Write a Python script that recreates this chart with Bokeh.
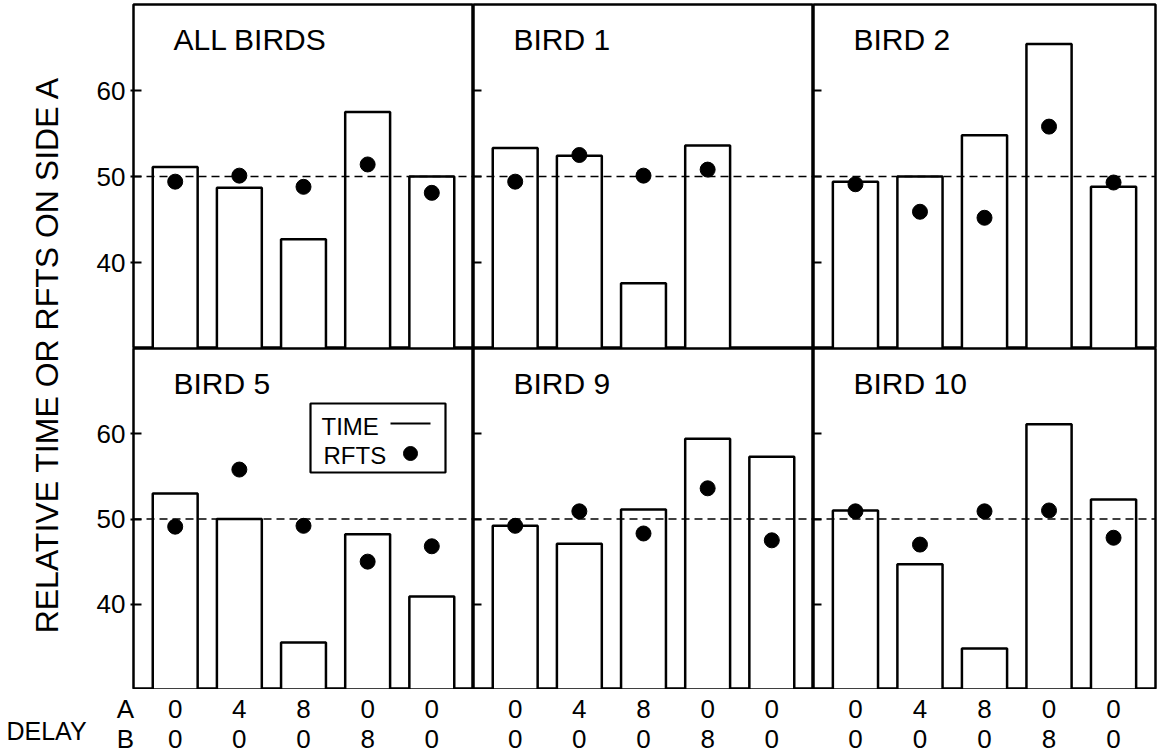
import math
from bokeh.plotting import figure
from bokeh.layouts import row as brow, column as bcol
from bokeh.models import (Range1d, LinearAxis, FixedTicker, Span, Label,
                          BoxAnnotation, GridPlot)
from bokeh.core.properties import value
from bokeh.embed import file_html
from bokeh.resources import INLINE

# ---------------- data ----------------
panel_titles = ["ALL BIRDS", "BIRD 1", "BIRD 2", "BIRD 5", "BIRD 9", "BIRD 10"]
positions = [1, 2, 3, 4, 5]
delay_a = ["0", "4", "8", "0", "0"]
delay_b = ["0", "0", "0", "8", "0"]
delay_rows = ["A", "B"]

time_all = [51.1, 48.7, 42.7, 57.5, 50.0]
time_b1 = [53.3, 52.4, 37.6, 53.6, None]
time_b2 = [49.4, 50.0, 54.8, 65.4, 48.8]
time_b5 = [53.0, 50.0, 35.5, 48.2, 40.9]
time_b9 = [49.2, 47.1, 51.1, 59.4, 57.3]
time_b10 = [51.0, 44.7, 34.8, 61.1, 52.3]

rfts_all = [49.4, 50.1, 48.8, 51.4, 48.1]
rfts_b1 = [49.4, 52.5, 50.1, 50.8, None]
rfts_b2 = [49.1, 45.9, 45.2, 55.8, 49.3]
rfts_b5 = [49.1, 55.8, 49.2, 45.0, 46.8]
rfts_b9 = [49.2, 50.9, 48.3, 53.6, 47.5]
rfts_b10 = [50.9, 47.0, 50.9, 51.0, 47.8]

y_ticks = [40, 50, 60]
chance_level = 50

time_sets = [time_all, time_b1, time_b2, time_b5, time_b9, time_b10]
rfts_sets = [rfts_all, rfts_b1, rfts_b2, rfts_b5, rfts_b9, rfts_b10]

# ---------------- layout ----------------
FONT = "Liberation Sans"
X0, X1 = 0.35, 5.65
Y0, Y1 = 30, 70
col_frame_w = [340, 340, 342]
row_frame_h = [344, 341]
left_border = 48
label_col_w = 85
top_border = 4
delay_h = 66
right_border = 7
LW = 2.5


def bare_fig(w, h, xr, yr):
    f = figure(width=w, height=h, x_range=xr, y_range=yr,
               output_backend="svg", toolbar_location=None,
               x_axis_location=None, y_axis_location=None, min_border=0)
    if "frame_align" in f.properties():
        f.frame_align = False
    for g in f.grid:
        g.visible = False
    f.outline_line_color = None
    f.background_fill_color = "white"
    f.border_fill_color = "white"
    return f


def make_panel(r, c, title, times, rfts):
    fw, fh = col_frame_w[c], row_frame_h[r]
    bl = left_border if c == 0 else 0
    br = right_border if c == 2 else 0
    bt = top_border if r == 0 else 0
    p = figure(width=fw + bl + br, height=fh + bt,
               x_range=Range1d(X0, X1), y_range=Range1d(Y0, Y1),
               output_backend="svg", toolbar_location=None,
               x_axis_location=None, y_axis_location=None,
               min_border_left=bl, min_border_right=br,
               min_border_top=bt, min_border_bottom=0)
    for g in p.grid:
        g.visible = False
    p.outline_line_color = "black"
    p.outline_line_width = LW
    p.background_fill_color = "white"
    p.border_fill_color = "white"
    sx = fw / (X1 - X0)
    sy = fh / (Y1 - Y0)

    # y axis (ticks inward)
    yax = LinearAxis(ticker=FixedTicker(ticks=y_ticks),
                     axis_line_color=None,
                     major_tick_line_color="black", major_tick_line_width=2,
                     major_tick_in=8, major_tick_out=3 if c == 0 else 0,
                     minor_tick_line_color=None,
                     major_label_text_font=FONT,
                     major_label_text_font_size="26px",
                     major_label_text_color="black",
                     major_label_standoff=5 if c == 0 else 0)
    if c != 0:
        yax.major_label_overrides = {t: "" for t in y_ticks}
        yax.major_label_text_font_size = "0px"
    p.add_layout(yax, "left")

    # bars and dots
    bx = [x for x, v in zip(positions, times) if v is not None]
    bt_ = [v for v in times if v is not None]
    p.vbar(x=bx, width=0.7, bottom=Y0, top=bt_, fill_color="white",
           line_color="black", line_width=LW)
    dx = [x for x, v in zip(positions, rfts) if v is not None]
    dy = [v for v in rfts if v is not None]
    p.scatter(x=dx, y=dy, size=15, fill_color="black", line_color="black")

    p.add_layout(Span(location=chance_level, dimension="width",
                      line_color="black", line_width=1.7, line_dash="8 5"))

    p.add_layout(Label(x=X0 + 40 / sx, y=Y1 - 35 / sy, text=title,
                       text_font=FONT, text_font_size="30px",
                       text_baseline="middle", text_color="black"))
    return p, sx, sy


panels = []
idx = 0
for r in range(2):
    prow = []
    for c in range(3):
        prow.append(make_panel(r, c, panel_titles[idx], time_sets[idx], rfts_sets[idx]))
        idx += 1
    panels.append(prow)

# legend in BIRD 5 panel
p5, sx5, sy5 = panels[1][0]
def px(off):
    return X0 + off / sx5
def py(off):
    return Y1 - off / sy5
p5.add_layout(BoxAnnotation(left=px(177), right=px(312), top=py(55), bottom=py(124),
                            fill_color="white", fill_alpha=1.0,
                            line_color="black", line_alpha=1.0, line_width=2.2,
                            level="underlay"))
p5.add_layout(Label(x=px(188), y=py(77.5), text="TIME", text_font=FONT,
                    text_font_size="24px", text_baseline="middle", text_color="black"))
p5.add_layout(Label(x=px(190), y=py(107), text="RFTS", text_font=FONT,
                    text_font_size="24px", text_baseline="middle", text_color="black"))
p5.segment(x0=[px(257)], y0=[py(75)], x1=[px(297)], y1=[py(75)],
           line_color="black", line_width=2.2)
p5.scatter(x=[px(277)], y=[py(105)], size=14, fill_color="black",
           line_color="black")

# y-label column
upper_h = top_border + row_frame_h[0] + row_frame_h[1]
lf = bare_fig(label_col_w, upper_h, Range1d(0, label_col_w), Range1d(0, upper_h))
lf.add_layout(Label(x=46, y=upper_h - 354, text="RELATIVE TIME OR RFTS ON SIDE A",
                    angle=90, angle_units="deg", text_font=FONT, text_font_size="32px",
                    text_align="center", text_baseline="middle", text_color="black"))

# delay rows (one strip per panel column, same bar scale as the panels)
row_y = {"A": delay_h - 19, "B": 17}     # text centres, px above strip bottom
delay_figs = []
for c in range(3):
    fw = col_frame_w[c]
    sx = fw / (X1 - X0)
    extra_left = (label_col_w + left_border) if c == 0 else 0
    extra_right = right_border if c == 2 else 0
    xr = Range1d(X0 - extra_left / sx, X1 + extra_right / sx)
    d = bare_fig(fw + extra_left + extra_right, delay_h, xr, Range1d(0, delay_h))
    for rname, labs in zip(delay_rows, (delay_a, delay_b)):
        d.text(x=positions, y=[row_y[rname]] * len(positions), text=labs,
               text_font=value(FONT), text_font_size="26px", text_color="black",
               text_align="center", text_baseline="middle")
    if c == 0:
        d.text(x=[X0 - 8 / sx] * 2, y=[row_y[n] for n in delay_rows], text=delay_rows,
               text_font=value(FONT), text_font_size="26px", text_color="black",
               text_align="center", text_baseline="middle")
        d.text(x=[X0 - 87 / sx], y=[25], text=["DELAY"],
               text_font=value(FONT), text_font_size="25px", text_color="black",
               text_align="center", text_baseline="middle")
    delay_figs.append(d)

children = []
for r in range(2):
    for c in range(3):
        children.append((panels[r][c][0], r, c))
grid = GridPlot(children=children, toolbar_location=None)

layout = bcol(brow(lf, grid), brow(*delay_figs))
open("out.html", "w").write(file_html(layout, INLINE))
